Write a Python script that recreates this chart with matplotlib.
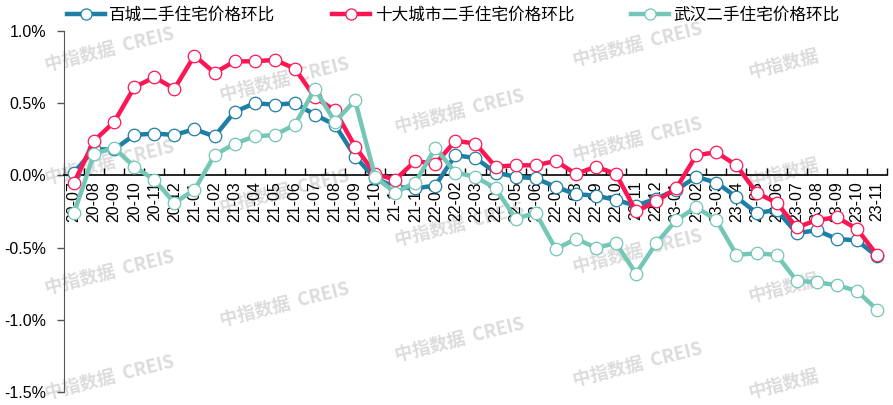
import matplotlib
matplotlib.use("Agg")
import matplotlib.pyplot as plt
from matplotlib.ticker import FuncFormatter, FixedLocator

plt.rcParams['font.family'] = ['Liberation Sans', 'Noto Sans CJK SC', 'DejaVu Sans']

# months 20-07 .. 23-11
months = ['20-07', '20-08', '20-09', '20-10', '20-11', '20-12',
          '21-01', '21-02', '21-03', '21-04', '21-05', '21-06',
          '21-07', '21-08', '21-09', '21-10', '21-11', '21-12',
          '22-01', '22-02', '22-03', '22-04', '22-05', '22-06',
          '22-07', '22-08', '22-09', '22-10', '22-11', '22-12',
          '23-01', '23-02', '23-03', '23-04', '23-05', '23-06',
          '23-07', '23-08', '23-09', '23-10', '23-11']

baicheng = [0.02, 0.18, 0.18, 0.28, 0.29, 0.28,
            0.32, 0.27, 0.44, 0.50, 0.49, 0.50,
            0.42, 0.35, 0.13, -0.02, -0.08, -0.09,
            -0.07, 0.14, 0.12, 0.02, -0.01, -0.02,
            -0.08, -0.13, -0.14, -0.17, -0.21, -0.16,
            -0.10, -0.01, -0.05, -0.15, -0.26, -0.24,
            -0.40, -0.38, -0.44, -0.45, -0.56]

shida = [-0.05, 0.24, 0.37, 0.61, 0.68, 0.60,
         0.83, 0.71, 0.79, 0.79, 0.80, 0.74,
         0.54, 0.45, 0.20, 0.01, -0.03, 0.10,
         0.08, 0.24, 0.22, 0.06, 0.07, 0.07,
         0.10, 0.01, 0.06, 0.01, -0.25, -0.18,
         -0.09, 0.14, 0.16, 0.07, -0.12, -0.19,
         -0.36, -0.31, -0.29, -0.37, -0.55]

wuhan = [-0.26, 0.15, 0.19, 0.06, -0.03, -0.19,
         -0.10, 0.14, 0.22, 0.27, 0.28, 0.35,
         0.60, 0.37, 0.52, -0.01, -0.12, -0.05,
         0.19, 0.02, -0.01, -0.09, -0.30, -0.26,
         -0.51, -0.44, -0.50, -0.47, -0.68, -0.47,
         -0.31, -0.22, -0.31, -0.55, -0.54, -0.55,
         -0.73, -0.74, -0.76, -0.80, -0.93]

series = [
    ('百城二手住宅价格环比', baicheng, '#1f7ea6'),
    ('十大城市二手住宅价格环比', shida, '#fe1654'),
    ('武汉二手住宅价格环比', wuhan, '#74c7b6'),
]

W, H = 893, 405
fig = plt.figure(figsize=(W / 100, H / 100), dpi=100)
ax = fig.add_axes([64 / W, 13 / H, (887 - 64) / W, (392 - 31) / H])

x = list(range(len(months)))
for i, (name, vals, col) in enumerate(series):
    ax.plot(x, vals, color=col, lw=3.2, marker='o', ms=9,
            mfc='white', mec=col, mew=0.9, label=name, zorder=3 + i)

ax.set_xlim(-0.5, len(months) - 0.5)
ax.set_ylim(-1.5, 1.0)
ax.set_yticks([-1.5, -1.0, -0.5, 0.0, 0.5, 1.0])
ax.yaxis.set_major_formatter(FuncFormatter(lambda v, p: '%.1f%%' % v))
ax.tick_params(axis='y', direction='out', length=5, width=1, labelsize=11.5,
               pad=8, color='#555555')

ax.spines['top'].set_visible(False)
ax.spines['right'].set_visible(False)
ax.spines['left'].set_color('#555555')
ax.spines['bottom'].set_position(('data', 0))
ax.spines['bottom'].set_linewidth(1.2)

# labels at month centres, tick marks between months
ax.set_xticks(x)
ax.set_xticklabels(months, rotation=90, fontsize=11.5)
ax.tick_params(axis='x', which='major', length=0, pad=4)
ax.xaxis.set_minor_locator(FixedLocator([i - 0.5 for i in range(len(months) + 1)]))
ax.tick_params(axis='x', which='minor', direction='in', length=5, width=1)

# watermark
marks = [
    (110, 50, 1), (110, 163, 1), (110, 273, 1), (110, 378, 1),
    (285, 80, 1), (285, 192, 1), (285, 305, 1),
    (460, 112, 1), (460, 225, 1), (460, 340, 1),
    (638, 45, 1), (638, 140, 1), (638, 252, 1), (638, 365, 1),
    (784, 64, 0), (784, 173, 0), (784, 288, 0), (784, 384, 0),
]
for px, py, full in marks:
    txt = '中指数据  CREIS' if full else '中指数据'
    ax.text(px / W, 1 - py / H, txt, transform=fig.transFigure,
            ha='center', va='center', rotation=14, fontsize=13,
            fontweight='bold', color='#dcdcdc', zorder=0, clip_on=False,
            family=['Noto Sans CJK SC', 'DejaVu Sans'])

leg = fig.legend(loc='center left', bbox_to_anchor=(60 / W, 1 - 15 / H),
                 ncol=3, frameon=False, fontsize=12, handlelength=2.3,
                 handletextpad=0.25, columnspacing=3.4, borderaxespad=0,
                 prop={'family': ['Noto Sans CJK SC'], 'size': 12})
for h in leg.get_lines():
    h.set_markersize(8)

fig.savefig('out.png', dpi=100)
